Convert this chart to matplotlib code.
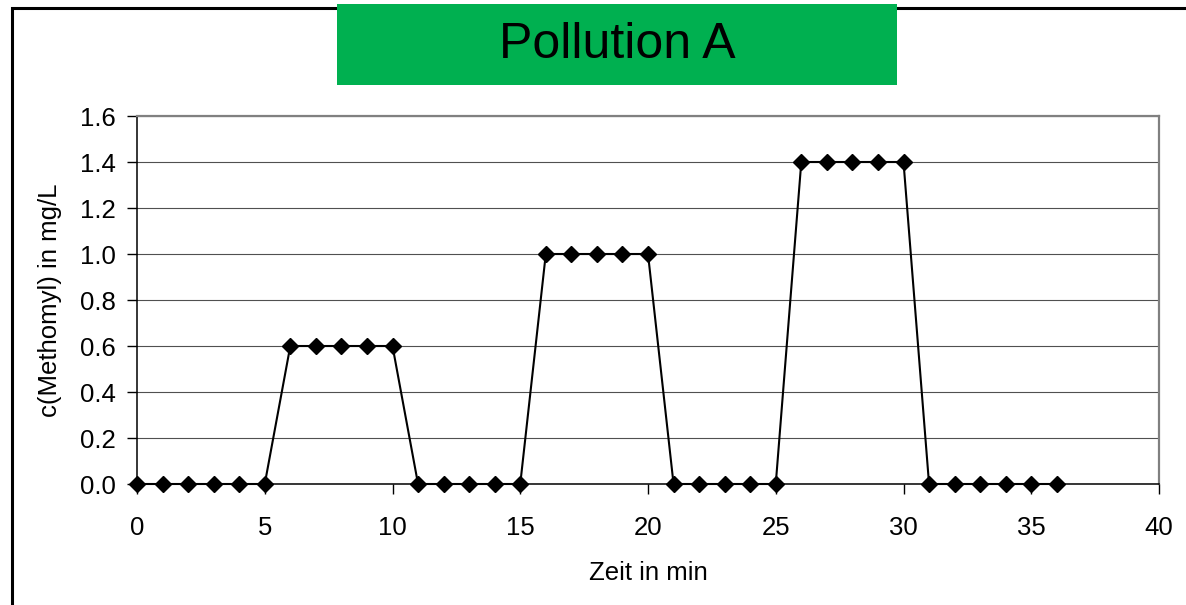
import numpy as np
import matplotlib
matplotlib.use('Agg')
import matplotlib.pyplot as plt
from matplotlib.patches import Rectangle

plt.rcParams['font.family'] = ['Liberation Sans', 'DejaVu Sans']

# data
zeit = list(range(0, 37))
methomyl = ([0.0] * 6 + [0.6] * 5 + [0.0] * 5 + [1.0] * 5 + [0.0] * 5
            + [1.4] * 5 + [0.0] * 6)
x_ticks = [0, 5, 10, 15, 20, 25, 30, 35, 40]
y_ticks = [0.0, 0.2, 0.4, 0.6, 0.8, 1.0, 1.2, 1.4, 1.6]

W, H = 1186, 605
fig = plt.figure(figsize=(W / 100, H / 100), dpi=100)

# outer frame, runs off the right and bottom edges
fig.patches.append(Rectangle((12 / W, -0.1), 1.2, (H - 8) / H + 0.1,
                             transform=fig.transFigure, fill=False,
                             edgecolor='black', linewidth=2.2, zorder=0))

# green title box
fig.patches.append(Rectangle((337 / W, (H - 85) / H), (897 - 337) / W, 81 / H,
                             transform=fig.transFigure, facecolor='#00B050',
                             edgecolor='none', zorder=1))
fig.text(617 / W, (H - 45) / H, 'Pollution A', fontsize=36,
         ha='center', va='center', zorder=2)

ax = fig.add_axes([137 / W, (H - 484) / H, (1159 - 137) / W, (484 - 116) / H])
ax.plot(zeit, methomyl, color='black', linewidth=1.5, marker='D',
        markersize=8, markerfacecolor='black', markeredgecolor='black',
        clip_on=False, zorder=3)

ax.set_xlim(0, 40)
ax.set_ylim(0, 1.6)
ax.set_xticks(x_ticks)
ax.set_yticks(y_ticks)
ax.set_xticklabels([str(t) for t in x_ticks])
ax.set_yticklabels(['%.1f' % t for t in y_ticks])
ax.yaxis.grid(True, color='#505050', linewidth=0.8)
ax.set_axisbelow(True)

ax.tick_params(axis='both', direction='out', length=7, width=1,
               labelsize=18.5, color='black')
ax.tick_params(axis='x', pad=16)
ax.tick_params(axis='y', pad=8)

for side in ['left', 'bottom']:
    ax.spines[side].set_color('black')
    ax.spines[side].set_linewidth(1.1)
for side in ['top', 'right']:
    ax.spines[side].set_color('#808080')
    ax.spines[side].set_linewidth(1.6)

ax.set_xlabel('Zeit in min', fontsize=18.5, labelpad=15)
ax.set_ylabel('c(Methomyl) in mg/L', fontsize=18.5, labelpad=13)

fig.savefig('out.png', dpi=100)
